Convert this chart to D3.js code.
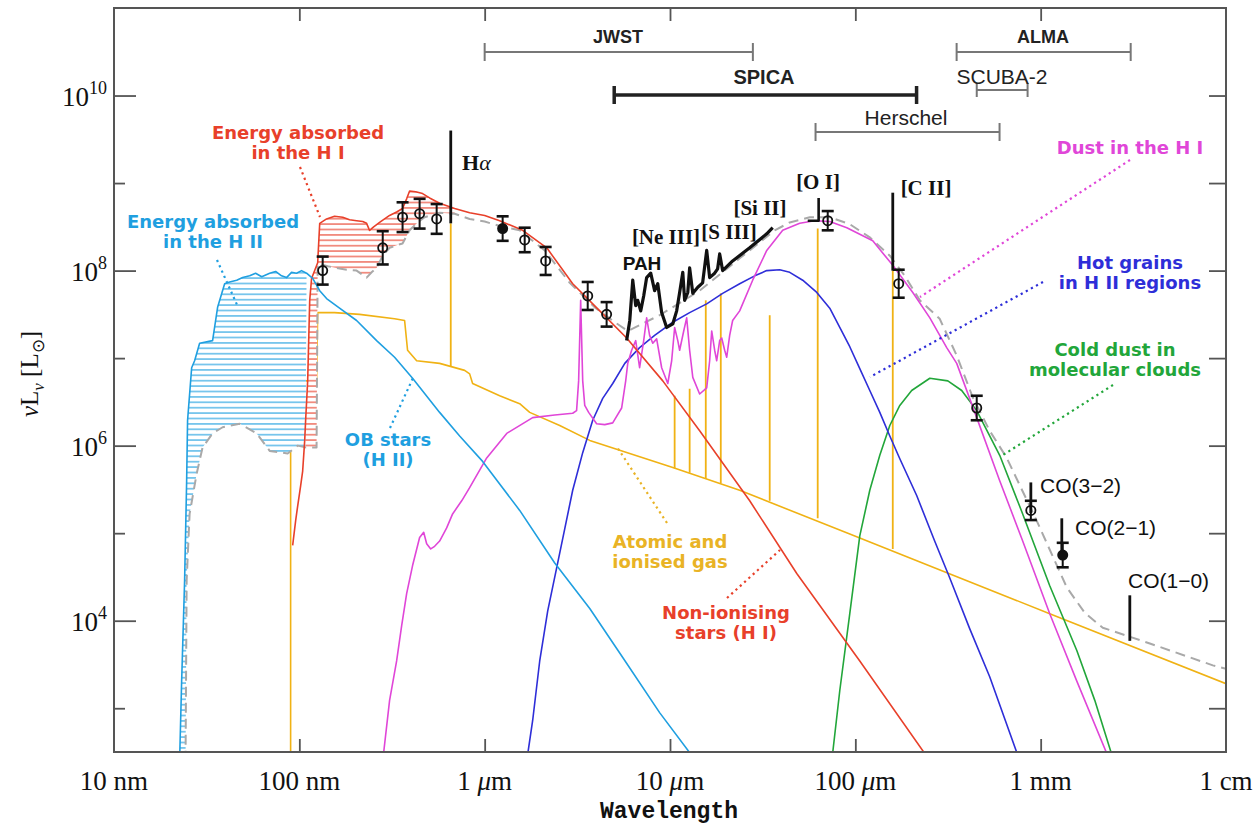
<!DOCTYPE html>
<html><head><meta charset="utf-8">
<script src="https://cdn.jsdelivr.net/npm/d3@7"></script>
<style>html,body{margin:0;padding:0;background:#fff;}svg{display:block;}</style>
</head><body>
<svg id="chart" width="1260" height="826"></svg>
<script>
// ---------------- DATA (log10 wavelength [micron], log10 nuL_nu [L_sun]) ----------------
const lambdaTicks = [1e-2, 1e-1, 1, 10, 100, 1000, 1e4];
const lambdaTickLabels = ["10 nm", "100 nm", "1 μm", "10 μm", "100 μm", "1 mm", "1 cm"];
const lumTickExponents = [3, 4, 5, 6, 7, 8, 9, 10];
const lumLabelExponents = [4, 6, 8, 10];

// OB stars (H II), intrinsic
const obStars = [[-1.646,2.40],[-1.635,3.31],[-1.619,4.46],[-1.608,5.60],[-1.603,6.29],[-1.581,6.89],[-1.565,6.97],[-1.538,7.17],[-1.468,7.20],[-1.441,7.58],[-1.403,7.85],[-1.376,7.87],[-1.338,7.89],[-1.306,7.92],[-1.268,7.94],[-1.236,7.97],[-1.203,7.93],[-1.160,7.97],[-1.128,7.99],[-1.096,7.94],[-1.069,7.92],[-1.042,7.98],[-1.015,7.97],[-0.988,8.00],[-0.961,7.97],[-0.928,7.91],[-0.890,7.77],[-0.853,7.68],[-0.783,7.57],[-0.691,7.43],[-0.583,7.20],[-0.486,7.01],[-0.389,6.77],[-0.243,6.38],[-0.135,6.11],[-0.011,5.82],[0.189,5.26],[0.378,4.66],[0.567,4.14],[0.745,3.58],[0.944,2.95],[1.139,2.40]];

// Non-ionising stars (H I), intrinsic
const nonIonising = [[-1.036,4.86],[-1.020,5.14],[-1.009,5.31],[-0.993,5.54],[-0.982,5.71],[-0.971,6.06],[-0.966,6.29],[-0.955,6.74],[-0.944,7.66],[-0.934,7.91],[-0.901,8.09],[-0.890,8.54],[-0.853,8.59],[-0.810,8.62],[-0.766,8.61],[-0.729,8.58],[-0.691,8.57],[-0.658,8.56],[-0.637,8.54],[-0.621,8.46],[-0.599,8.50],[-0.567,8.55],[-0.513,8.63],[-0.475,8.67],[-0.443,8.71],[-0.421,8.82],[-0.405,8.91],[-0.372,8.90],[-0.335,8.88],[-0.297,8.83],[-0.243,8.77],[-0.162,8.71],[-0.081,8.66],[0.000,8.63],[0.081,8.57],[0.205,8.46],[0.335,8.26],[0.475,7.85],[0.621,7.54],[0.766,7.23],[0.961,6.74],[1.160,6.17],[1.430,5.37],[1.684,4.54],[2.024,3.54],[2.402,2.40]];

// Total attenuated model (grey dashed)
const totalSED = [[-1.614,2.40],[-1.608,4.46],[-1.592,5.22],[-1.554,5.68],[-1.522,5.98],[-1.468,6.14],[-1.414,6.21],[-1.322,6.25],[-1.230,6.14],[-1.160,5.94],[-1.063,5.91],[-1.009,6.00],[-0.966,5.98],[-0.907,5.98],[-0.901,8.08],[-0.847,8.05],[-0.799,8.03],[-0.745,8.01],[-0.691,8.00],[-0.658,7.95],[-0.637,7.92],[-0.610,7.98],[-0.583,8.03],[-0.550,8.17],[-0.513,8.26],[-0.475,8.29],[-0.443,8.31],[-0.405,8.46],[-0.362,8.55],[-0.324,8.61],[-0.243,8.66],[-0.162,8.65],[-0.081,8.59],[0.000,8.56],[0.081,8.51],[0.189,8.46],[0.324,8.23],[0.459,7.86],[0.594,7.58],[0.702,7.41],[0.772,7.31],[0.944,7.49],[1.160,7.77],[1.376,8.14],[1.565,8.46],[1.646,8.55],[1.754,8.61],[1.862,8.61],[1.970,8.53],[2.078,8.38],[2.186,8.17],[2.267,7.94],[2.348,7.66],[2.455,7.45],[2.547,7.03],[2.634,6.55],[2.725,6.17],[2.817,5.86],[2.979,5.14],[3.141,4.38],[3.238,4.09],[3.335,3.92],[3.589,3.74],[3.929,3.49],[4.000,3.45]];

// Atomic and ionised gas continuum
const gasContinuum = [[-1.047,2.40],[-1.047,6.74],[-0.907,6.74],[-0.901,7.52],[-0.810,7.52],[-0.675,7.50],[-0.486,7.45],[-0.432,7.43],[-0.416,7.09],[-0.367,6.97],[-0.243,6.94],[-0.108,6.86],[-0.081,6.82],[-0.065,6.71],[0.081,6.57],[0.189,6.48],[0.243,6.38],[0.405,6.23],[0.567,6.06],[1.015,5.75],[1.376,5.49],[1.970,4.99],[3.049,4.08],[4.000,3.28]];
// Gas emission lines: log wavelength, log base, log top
const gasLineLogLambda = [-0.183, 1.025, 1.106, 1.193, 1.274, 1.538, 1.797, 2.202];
const gasLineLogBase   = [6.90, 5.74, 5.69, 5.62, 5.57, 5.37, 5.17, 4.82];
const gasLineLogTop    = [8.54, 6.57, 6.65, 7.66, 7.74, 7.49, 8.48, 8.00];

// Dust in the H I
const dustHI = [[-0.550,2.40],[-0.513,3.09],[-0.475,3.54],[-0.448,3.94],[-0.421,4.31],[-0.389,4.63],[-0.351,4.95],[-0.329,5.01],[-0.313,4.88],[-0.291,4.82],[-0.270,4.85],[-0.243,4.91],[-0.205,5.06],[-0.173,5.22],[-0.124,5.37],[-0.081,5.52],[0.011,5.86],[0.119,6.14],[0.259,6.32],[0.378,6.35],[0.475,6.37],[0.496,6.40],[0.507,6.74],[0.518,7.66],[0.529,6.74],[0.540,6.46],[0.561,6.38],[0.604,6.25],[0.648,6.24],[0.691,6.26],[0.739,6.43],[0.761,6.74],[0.772,6.94],[0.793,7.09],[0.815,7.20],[0.836,6.89],[0.858,7.20],[0.874,7.46],[0.890,7.26],[0.907,7.17],[0.928,7.22],[0.955,6.89],[0.988,6.71],[1.009,6.97],[1.025,7.35],[1.042,7.20],[1.052,7.09],[1.074,7.31],[1.090,7.46],[1.106,7.09],[1.123,6.78],[1.160,6.59],[1.198,6.66],[1.214,6.97],[1.225,7.31],[1.241,7.09],[1.252,6.97],[1.268,7.20],[1.279,7.23],[1.295,7.09],[1.306,7.01],[1.322,7.26],[1.338,7.43],[1.376,7.54],[1.446,7.89],[1.522,8.23],[1.608,8.46],[1.700,8.54],[1.781,8.57],[1.862,8.56],[1.954,8.49],[2.094,8.34],[2.202,8.06],[2.310,7.75],[2.402,7.46],[2.493,7.12],[2.547,6.94],[2.655,6.32],[2.779,5.60],[2.903,4.91],[3.049,4.08],[3.195,3.31],[3.373,2.40]];

// Hot grains in H II regions
const hotGrains = [[0.227,2.40],[0.259,2.86],[0.297,3.54],[0.340,4.11],[0.389,4.61],[0.432,5.05],[0.475,5.49],[0.529,5.92],[0.583,6.29],[0.637,6.54],[0.691,6.71],[0.756,6.94],[0.836,7.12],[0.917,7.26],[1.015,7.41],[1.106,7.52],[1.198,7.62],[1.284,7.74],[1.376,7.85],[1.457,7.94],[1.522,8.00],[1.592,8.01],[1.646,7.98],[1.716,7.89],[1.792,7.75],[1.862,7.57],[1.916,7.35],[1.970,7.13],[2.024,6.88],[2.078,6.63],[2.132,6.38],[2.186,6.11],[2.240,5.85],[2.331,5.43],[2.428,4.91],[2.509,4.49],[2.617,3.91],[2.725,3.36],[2.887,2.40]];

// Cold dust in molecular clouds
const coldDust = [[1.873,2.40],[1.916,3.20],[1.970,4.08],[2.024,4.97],[2.078,5.49],[2.132,5.89],[2.186,6.23],[2.240,6.46],[2.304,6.63],[2.402,6.77],[2.499,6.74],[2.574,6.63],[2.655,6.40],[2.779,5.89],[2.903,5.22],[3.049,4.40],[3.195,3.66],[3.292,3.09],[3.394,2.40]];

// Observed mid-IR spectrum (thick black)
const irsSpectrum = [[0.766,7.20],[0.783,7.43],[0.799,7.89],[0.815,7.60],[0.826,7.66],[0.842,7.54],[0.858,7.71],[0.874,7.92],[0.896,7.97],[0.917,7.77],[0.934,7.85],[0.955,7.52],[0.982,7.35],[1.015,7.39],[1.036,7.54],[1.052,7.75],[1.069,7.98],[1.079,7.66],[1.096,7.75],[1.106,8.03],[1.123,7.74],[1.150,7.81],[1.176,7.86],[1.198,8.23],[1.214,7.92],[1.241,7.97],[1.257,8.02],[1.268,8.19],[1.284,8.00],[1.338,8.11],[1.430,8.26],[1.522,8.42],[1.554,8.49]];
const oiSegment = [[1.743,8.57],[1.802,8.57],[1.802,8.83]];
// Observed lines (black): H-alpha, [C II], CO(3-2), CO(2-1), CO(1-0)
const obsLineLogLambda = [-0.183, 2.202, 2.947, 3.114, 3.481];
const obsLineLogBase   = [8.54, 8.00, 5.23, 4.77, 3.77];
const obsLineLogTop    = [9.60, 8.89, 5.58, 5.17, 4.29];

// Photometry
const photLogLambda = [-0.874,-0.550,-0.443,-0.351,-0.259,0.097,0.216,0.329,0.556,0.658,1.851,2.234,2.655,2.947,3.119];
const photLogL      = [8.00,8.26,8.61,8.65,8.59,8.48,8.35,8.11,7.71,7.50,8.57,7.85,6.43,5.26,4.75];
const photErrDex    = [0.16,0.19,0.17,0.17,0.17,0.14,0.14,0.16,0.16,0.14,0.11,0.16,0.14,0.11,0.14];
const photFilled    = [false,false,false,false,false,true,false,false,false,false,false,false,false,false,true];

// Instrument coverage [micron]
const instrumentNames = ["JWST", "ALMA", "SPICA", "SCUBA-2", "Herschel"];
const instrumentMin   = [1, 352, 5, 452, 61];
const instrumentMax   = [28, 3060, 214, 850, 600];

// ---------------- DRAWING ----------------
const L = 114, R = 1226, T = 8, B = 752;
const x = d3.scaleLog().domain([1e-2, 1e4]).range([L, R]);
const y = d3.scaleLog().domain([Math.pow(10, 2.5), 1e11]).range([B, T]);
const X = v => x(Math.pow(10, v));
const Y = v => y(Math.pow(10, v));
const line = d3.line().x(d => X(d[0])).y(d => Y(d[1]));

const C = {cyan:"#1f9fe0", red:"#e8402a", gold:"#f0b214", pink:"#e046d8", blue:"#2e2ed8", green:"#22a63a", grey:"#a9a9a9"};

const svg = d3.select("#chart");
const defs = svg.append("defs");
defs.append("clipPath").attr("id","clip").append("rect").attr("x",L).attr("y",T).attr("width",R-L).attr("height",B-T);
function hatch(id, color){
  const p = defs.append("pattern").attr("id",id).attr("patternUnits","userSpaceOnUse").attr("width",10).attr("height",5.4);
  p.append("line").attr("x1",0).attr("x2",10).attr("y1",2.7).attr("y2",2.7).attr("stroke",color).attr("stroke-width",1.1);
}
hatch("hBlue", C.cyan); hatch("hRed", C.red);

const plot = svg.append("g").attr("clip-path","url(#clip)");

function curve(data, color, w, dash){
  const p = plot.append("path").attr("d", line(data)).attr("fill","none").attr("stroke",color)
    .attr("stroke-width",w).attr("stroke-linejoin","round");
  if (dash) p.attr("stroke-dasharray", dash);
  return p;
}
// gas continuum drawn first so the hatched regions sit over its hidden part
curve(gasContinuum, C.gold, 1.6);

// hatched absorbed-energy regions
const hiiTop = obStars.filter(d => d[0] <= -0.96);
const hiiBot = totalSED.filter(d => d[0] <= -0.965);
plot.append("path").attr("d", line(hiiTop.concat(hiiBot.slice().reverse())) + "Z").attr("fill","#fff");
plot.append("path").attr("d", line(hiiTop.concat(hiiBot.slice().reverse())) + "Z").attr("fill","url(#hBlue)");
const hiTop = nonIonising.filter(d => d[0] >= -0.967 && d[0] <= -0.16);
const hiBot = totalSED.filter(d => d[0] >= -0.967 && d[0] <= -0.16);
plot.append("path").attr("d", line(hiTop.concat(hiBot.slice().reverse())) + "Z").attr("fill","#fff");
plot.append("path").attr("d", line(hiTop.concat(hiBot.slice().reverse())) + "Z").attr("fill","url(#hRed)");

curve(totalSED, C.grey, 2, "10,6");
gasLineLogLambda.forEach((l,i) => {
  plot.append("line").attr("x1",X(l)).attr("x2",X(l)).attr("y1",Y(gasLineLogBase[i])).attr("y2",Y(gasLineLogTop[i]))
    .attr("stroke",C.gold).attr("stroke-width",1.8);
});
curve(coldDust, C.green, 1.6);
curve(hotGrains, C.blue, 1.6);
curve(dustHI, C.pink, 1.6);
curve(nonIonising, C.red, 1.6);
curve(obStars, C.cyan, 1.6);
curve(irsSpectrum, "#111", 3.2);
curve(oiSegment, "#111", 2.6);
obsLineLogLambda.forEach((l,i) => {
  plot.append("line").attr("x1",X(l)).attr("x2",X(l)).attr("y1",Y(obsLineLogBase[i])).attr("y2",Y(obsLineLogTop[i]))
    .attr("stroke","#111").attr("stroke-width",2.8);
});

// photometry
photLogLambda.forEach((l,i) => {
  const cx = X(l), lo = Y(photLogL[i]-photErrDex[i]), hi = Y(photLogL[i]+photErrDex[i]);
  const g = plot.append("g").attr("stroke","#111").attr("stroke-width",2);
  g.append("line").attr("x1",cx).attr("x2",cx).attr("y1",lo).attr("y2",hi);
  g.append("line").attr("x1",cx-6).attr("x2",cx+6).attr("y1",lo).attr("y2",lo).attr("stroke-width",2.6);
  g.append("line").attr("x1",cx-6).attr("x2",cx+6).attr("y1",hi).attr("y2",hi).attr("stroke-width",2.6);
  g.append("circle").attr("cx",cx).attr("cy",Y(photLogL[i])).attr("r",4.6)
    .attr("fill", photFilled[i] ? "#111" : "none").attr("stroke-width",1.8);
});

// frame & ticks
const axisCol = "#555";
const bottomAxis = d3.axisBottom(x).tickValues(lambdaTicks.slice(1,-1)).tickSize(-13).tickFormat("");
const topAxis = d3.axisTop(x).tickValues(lambdaTicks.slice(1,-1)).tickSize(-13).tickFormat("");
svg.append("g").attr("transform",`translate(0,${B})`).call(bottomAxis);
svg.append("g").attr("transform",`translate(0,${T})`).call(topAxis);
const majors = lumTickExponents.filter(e => lumLabelExponents.includes(e)).map(e => Math.pow(10,e));
const minors = lumTickExponents.filter(e => !lumLabelExponents.includes(e)).map(e => Math.pow(10,e));
svg.append("g").attr("transform",`translate(${L},0)`).call(d3.axisLeft(y).tickValues(majors).tickSize(-22).tickFormat(""));
svg.append("g").attr("transform",`translate(${L},0)`).call(d3.axisLeft(y).tickValues(minors).tickSize(-11).tickFormat(""));
svg.append("g").attr("transform",`translate(${R},0)`).call(d3.axisRight(y).tickValues(lumTickExponents.map(e=>Math.pow(10,e))).tickSize(-17).tickFormat(""));
svg.selectAll(".domain").remove();
svg.selectAll(".tick line").attr("stroke",axisCol).attr("stroke-width",1.8);
svg.append("rect").attr("x",L).attr("y",T).attr("width",R-L).attr("height",B-T)
  .attr("fill","none").attr("stroke",axisCol).attr("stroke-width",2);

// x tick labels
lambdaTicks.forEach((v,i) => {
  const t = svg.append("text").attr("x",x(v)).attr("y",790).attr("text-anchor","middle")
    .attr("font-family","Liberation Serif, serif").attr("font-size",27).attr("fill","#111");
  const s = lambdaTickLabels[i];
  if (s.includes("μ")) {
    const parts = s.split("μ");
    t.append("tspan").text(parts[0]);
    t.append("tspan").attr("font-style","italic").text("μ");
    t.append("tspan").text(parts[1]);
  } else t.text(s);
});
// y tick labels
lumLabelExponents.forEach(e => {
  const t = svg.append("text").attr("x",107).attr("y",Y(e)+10).attr("text-anchor","end")
    .attr("font-family","Liberation Serif, serif").attr("font-size",27).attr("fill","#111");
  t.append("tspan").text("10");
  t.append("tspan").attr("font-size",18).attr("dy",-12).text(String(e));
});
// axis titles
svg.append("text").attr("x",669).attr("y",818).attr("text-anchor","middle")
  .attr("font-family","Liberation Mono, monospace").attr("font-weight","bold").attr("font-size",23).attr("fill","#111").text("Wavelength");
const yl = svg.append("text").attr("transform","translate(38,374) rotate(-90)").attr("text-anchor","middle")
  .attr("font-family","Liberation Serif, serif").attr("font-size",25).attr("fill","#111");
yl.append("tspan").attr("font-style","italic").text("ν");
yl.append("tspan").text("L");
yl.append("tspan").attr("font-size",17).attr("dy",6).attr("font-style","italic").text("ν");
yl.append("tspan").attr("dy",-6).text(" [L");
yl.append("tspan").attr("font-size",17).attr("dy",6).text("⊙");
yl.append("tspan").attr("dy",-6).text("]");

// instruments
const instRowY = {JWST:52, ALMA:52, SPICA:95, "SCUBA-2":90, Herschel:132};
const instLabelPos = {JWST:[618,43], ALMA:[1043,43], SPICA:[764,84], "SCUBA-2":[1002,84], Herschel:[906,125]};
instrumentNames.forEach((n,i) => {
  const yy = instRowY[n], x1 = x(instrumentMin[i]), x2 = x(instrumentMax[i]);
  const thick = n === "SPICA";
  const col = thick ? "#222" : "#777", w = thick ? 3.5 : 2, cap = n === "SCUBA-2" ? 7 : 9;
  svg.append("line").attr("x1",x1).attr("x2",x2).attr("y1",yy).attr("y2",yy).attr("stroke",col).attr("stroke-width",w);
  [x1,x2].forEach(xx => svg.append("line").attr("x1",xx).attr("x2",xx).attr("y1",yy-cap).attr("y2",yy+cap).attr("stroke",col).attr("stroke-width",w));
  const bold = n === "JWST" || n === "ALMA" || n === "SPICA";
  const fs = n === "SPICA" ? 20 : (bold ? 18 : 21);
  svg.append("text").attr("x",instLabelPos[n][0]).attr("y",instLabelPos[n][1]).attr("text-anchor","middle")
    .attr("font-family","Liberation Sans, sans-serif").attr("font-weight", bold ? "bold" : "normal")
    .attr("font-size",fs).attr("fill","#222").text(n);
});

// line labels
function label(txt, xx, yy, opts){
  const t = svg.append("text").attr("x",xx).attr("y",yy).attr("text-anchor",opts.anchor||"middle")
    .attr("font-family",opts.family||"Liberation Serif, serif").attr("font-size",opts.size||21)
    .attr("font-weight",opts.weight||"bold").attr("fill",opts.color||"#111");
  t.text(txt);
  return t;
}
const ha = svg.append("text").attr("x",462).attr("y",170).attr("font-family","Liberation Serif, serif").attr("font-size",22).attr("font-weight","bold").attr("fill","#111");
ha.append("tspan").text("H"); ha.append("tspan").attr("font-style","italic").attr("font-weight","normal").text("α");
label("PAH", 642, 270, {family:"Liberation Sans, sans-serif", size:19});
label("[Ne III]", 666, 244, {});
label("[S III]", 729, 239, {});
label("[Si II]", 760, 215, {});
label("[O I]", 818, 189, {});
label("[C II]", 926, 195, {});
label("CO(3−2)", 1040, 493, {anchor:"start", family:"Liberation Sans, sans-serif", size:21, weight:"normal"});
label("CO(2−1)", 1075, 535, {anchor:"start", family:"Liberation Sans, sans-serif", size:21, weight:"normal"});
label("CO(1−0)", 1128, 588, {anchor:"start", family:"Liberation Sans, sans-serif", size:21, weight:"normal"});

// coloured annotations
const annFont = "DejaVu Sans, sans-serif";
function ann(lines, cx, cy, color){
  lines.forEach((s,i) => label(s, cx, cy + i*20 + 6, {family:annFont, size:18, weight:"bold", color:color}));
}
function leader(x1,y1,x2,y2,color){
  svg.append("line").attr("x1",x1).attr("y1",y1).attr("x2",x2).attr("y2",y2)
    .attr("stroke",color).attr("stroke-width",2.2).attr("stroke-dasharray","2.2,3.6");
}
ann(["Energy absorbed","in the H I"], 298, 133, C.red);       leader(300,167,320,217,C.red);
ann(["Energy absorbed","in the H II"], 213, 222, C.cyan);     leader(217,260,238,307,C.cyan);
ann(["OB stars","(H II)"], 388, 440, C.cyan);                 leader(390,428,413,378,C.cyan);
ann(["Atomic and","ionised gas"], 670, 542, "#e9b325");       leader(667,523,617,447,"#e9b325");
ann(["Non-ionising","stars (H I)"], 726, 613, C.red);        leader(727,598,780,550,C.red);
ann(["Dust in the H I"], 1130, 148, C.pink);                  leader(1130,160,920,297,C.pink);
ann(["Hot grains","in H II regions"], 1130, 263, C.blue);     leader(1043,282,870,377,C.blue);
ann(["Cold dust in","molecular clouds"], 1115, 350, C.green); leader(1113,385,1003,455,C.green);
</script>
</body></html>
